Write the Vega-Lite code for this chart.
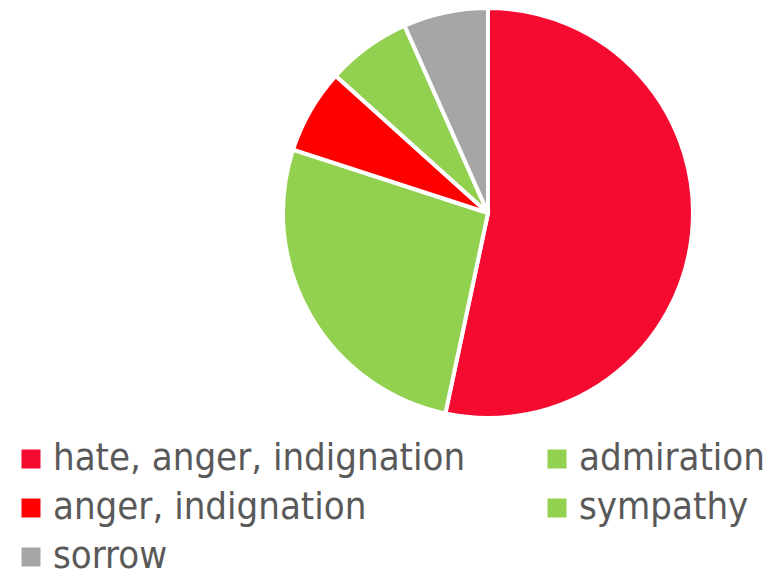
{
  "$schema": "https://vega.github.io/schema/vega-lite/v6.json",
  "width": 420,
  "height": 420,
  "autosize": {"type": "none"},
  "padding": {"left": 278, "top": 3, "right": 78, "bottom": 156},
  "background": "white",
  "view": {"stroke": null},
  "data": {
    "values": [
      {"emotion": "hate, anger, indignation", "count": 8, "rank": 1},
      {"emotion": "admiration", "count": 4, "rank": 2},
      {"emotion": "anger, indignation", "count": 1, "rank": 3},
      {"emotion": "sympathy", "count": 1, "rank": 4},
      {"emotion": "sorrow", "count": 1, "rank": 5}
    ]
  },
  "mark": {"type": "arc", "outerRadius": 205, "stroke": "white", "strokeWidth": 4},
  "encoding": {
    "theta": {"field": "count", "type": "quantitative", "stack": true},
    "order": {"field": "rank", "type": "quantitative"},
    "color": {
      "field": "emotion",
      "type": "nominal",
      "scale": {
        "domain": ["hate, anger, indignation", "admiration", "anger, indignation", "sympathy", "sorrow"],
        "range": ["#F50A30", "#92D050", "#FF0000", "#92D050", "#A6A6A6"]
      },
      "legend": {
        "title": null,
        "orient": "none",
        "legendX": -266,
        "legendY": 437,
        "columns": 2,
        "values": ["hate, anger, indignation", "anger, indignation", "sorrow", "admiration", "sympathy"],
        "columnPadding": 72,
        "rowPadding": 11,
        "symbolType": "square",
        "symbolSize": 361,
        "symbolStrokeWidth": 0,
        "labelFont": "DejaVu Sans Condensed",
        "labelFontSize": 38,
        "labelColor": "#595959",
        "labelOffset": 3,
        "labelLimit": 600
      }
    }
  }
}
